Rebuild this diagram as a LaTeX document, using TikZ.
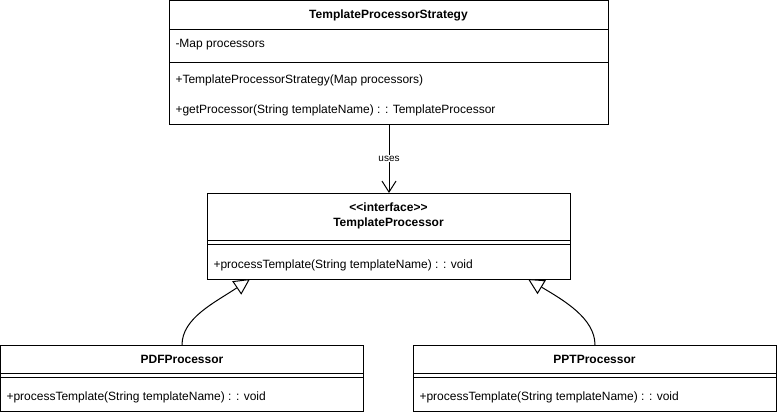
\documentclass[tikz,border=0pt]{standalone}
\usepackage{fontspec}
\setmainfont{Liberation Sans}
\usetikzlibrary{arrows.meta}
\begin{document}
\begin{tikzpicture}[x=1pt,y=-1pt,
  font=\fontsize{12}{14}\selectfont,
  line width=1pt,
  classbox/.style={draw=black, fill=white, inner sep=0pt, outer sep=0pt, anchor=north west},
  ctitle/.style={anchor=base, inner sep=0pt, font=\fontsize{12}{14}\selectfont\bfseries},
  member/.style={anchor=base west, inner sep=0pt},
  sepline/.style={draw=black, line width=1pt},
  usesarrow/.style={-{Straight Barb[length=11pt,width=14pt,line width=1pt]}},
  inherit/.style={-{Triangle[open,length=16pt,width=16pt,line width=1pt,fill=white]}},
]
\useasboundingbox (0,0) rectangle (777,415);

% TemplateProcessorStrategy
\node[classbox, minimum width=439pt, minimum height=123.5pt] (strat) at (169,0.5) {};
\node[ctitle] (stratT) at (388.5,19) {TemplateProcessorStrategy};
\draw[sepline] (169,29.5) -- (608,29.5);
\node[member] (stratA) at (175,47) {-Map processors};
\draw[sepline] (169,62) -- (608,62);
\node[member] (stratM1) at (175,83) {+TemplateProcessorStrategy(Map processors)};
\node[member] (stratM2) at (175,113) {+getProcessor(String templateName) : : TemplateProcessor};

% TemplateProcessor interface
\node[classbox, minimum width=363pt, minimum height=86pt] (iface) at (207,193) {};
\node[ctitle, font=\fontsize{12}{14}\selectfont] (ifaceS) at (388.5,211) {\bfseries <{}<interface>{}>};
\node[ctitle] (ifaceT) at (388.5,226) {TemplateProcessor};
\draw[sepline] (207,240.5) -- (570,240.5);
\draw[sepline] (207,244) -- (570,244);
\node[member] (ifaceM) at (213,268) {+processTemplate(String templateName) : : void};

% PDFProcessor
\node[classbox, minimum width=363pt, minimum height=66pt] (pdf) at (0.5,345) {};
\node[ctitle] (pdfT) at (182,363) {PDFProcessor};
\draw[sepline] (0.5,373.5) -- (363.5,373.5);
\draw[sepline] (0.5,377) -- (363.5,377);
\node[member] (pdfM) at (6,400) {+processTemplate(String templateName) : : void};

% PPTProcessor
\node[classbox, minimum width=363pt, minimum height=66pt] (ppt) at (413,345) {};
\node[ctitle] (pptT) at (594.5,363) {PPTProcessor};
\draw[sepline] (413,373.5) -- (776,373.5);
\draw[sepline] (413,377) -- (776,377);
\node[member] (pptM) at (419,400) {+processTemplate(String templateName) : : void};

% uses
\draw[usesarrow] ([xshift=0.5pt]strat.south) -- node[fill=white, inner sep=1pt, font=\fontsize{10}{12}\selectfont] (usesL) {uses} ([xshift=0.5pt]iface.north);

% inheritance
\draw[inherit] ([xshift=181.5pt]pdf.north west) .. controls (182,318) and (215,302.5) .. ([xshift=43pt]iface.south west);
\draw[inherit] ([xshift=182pt]ppt.north west) .. controls (595,318) and (563,300) .. ([xshift=321pt]iface.south west);
\end{tikzpicture}
\end{document}
